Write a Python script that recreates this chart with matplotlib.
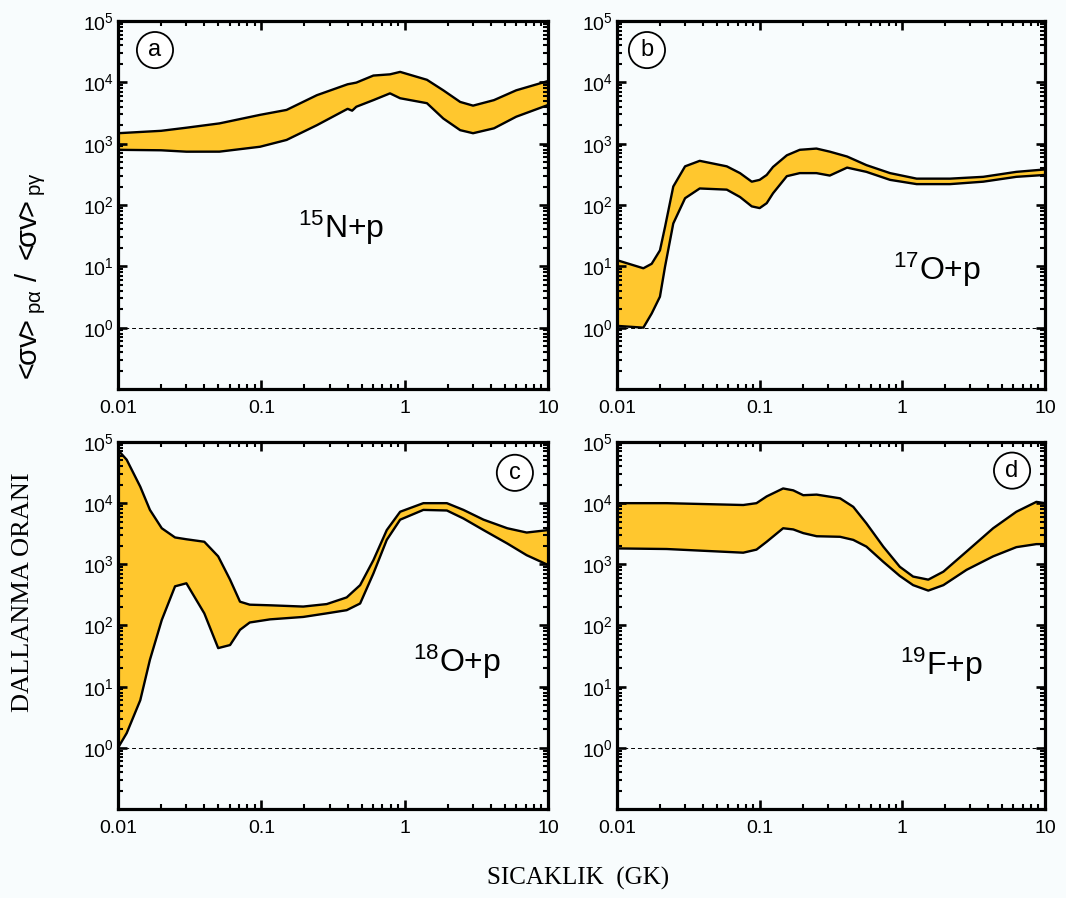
"""Branching ratio bands <sv>_pa/<sv>_pg for four reactions (2x2 panels)."""

import matplotlib
matplotlib.use("Agg")
import matplotlib.pyplot as plt
from matplotlib.ticker import LogLocator, FixedLocator, FixedFormatter, NullFormatter

plt.rcParams["font.family"] = ["Liberation Sans", "DejaVu Sans"]
plt.rcParams["mathtext.fontset"] = "custom"
plt.rcParams["mathtext.rm"] = "Liberation Sans"
plt.rcParams["mathtext.it"] = "Liberation Sans:italic"
plt.rcParams["mathtext.bf"] = "Liberation Sans:bold"

# ---- data (T in GK, ratio) ----
T_a = [0.01, 0.02, 0.03, 0.051, 0.098, 0.15, 0.244, 0.40, 0.43, 0.46, 0.605, 0.79,
       0.93, 1.43, 1.86, 2.44, 3.0, 4.2, 6.0, 10]
hi_a = [1480, 1620, 1820, 2140, 2950, 3550, 6170, 9300, 9600, 9900, 12900, 13500,
        14800, 11000, 7410, 4790, 4170, 5130, 7410, 10500]
lo_a = [794, 780, 740, 741, 891, 1150, 2000, 3700, 3450, 4000, 5130, 6610,
        5500, 4570, 2570, 1660, 1480, 1780, 2750, 4270]

T_b = [0.01, 0.0153, 0.0175, 0.02, 0.0217, 0.0248, 0.030, 0.038, 0.0588, 0.0728,
       0.088, 0.1, 0.112, 0.124, 0.155, 0.191, 0.25, 0.31, 0.41, 0.56, 0.82,
       1.26, 2.16, 3.69, 6.3, 10]
hi_b = [12.6, 9.3, 11.0, 18.2, 43.7, 200, 427, 525, 427, 331, 240, 257, 309, 417,
        646, 794, 832, 741, 617, 447, 331, 269, 269, 288, 347, 380]
lo_b = [1.07, 1.0, 1.7, 3.2, 9.8, 50, 129, 186, 178, 135, 95, 89, 107, 155,
        295, 331, 331, 302, 407, 347, 257, 219, 219, 240, 288, 309]

T_c = [0.01, 0.0115, 0.0143, 0.0167, 0.0202, 0.025, 0.030, 0.040, 0.050, 0.0605,
       0.071, 0.083, 0.115, 0.196, 0.286, 0.394, 0.489, 0.605, 0.75, 0.93, 1.35,
       1.97, 2.57, 3.55, 5.2, 7.1, 10]
hi_c = [74100, 51300, 18600, 7760, 3890, 2750, 2570, 2340, 1350, 562, 245, 219,
        214, 204, 224, 288, 457, 1170, 3630, 7240, 10000, 10000, 7760, 5370,
        3890, 3310, 3630]
lo_c = [1.0, 1.74, 6.0, 27.5, 123, 437, 490, 158, 42.7, 47.9, 85, 112, 126, 138,
        158, 178, 229, 708, 2510, 5370, 7760, 7590, 5620, 3630, 2190, 1410, 977]

T_d = [0.01, 0.0223, 0.0767, 0.095, 0.112, 0.146, 0.172, 0.202, 0.251, 0.366,
       0.453, 0.56, 0.735, 0.96, 1.19, 1.52, 1.94, 2.82, 4.33, 6.3, 8.7, 10]
hi_d = [10000, 10000, 9330, 10000, 12900, 17400, 16200, 13500, 13800, 12000,
        8710, 4680, 1950, 912, 631, 562, 759, 1620, 3890, 7240, 10500, 10000]
lo_d = [1820, 1780, 1550, 1740, 2340, 3890, 3720, 3240, 2880, 2820, 2510, 1950,
        1100, 646, 457, 372, 457, 813, 1350, 1910, 2140, 2140]

panel_tags = ["a", "b", "c", "d"]
reactions = [r"$^{15}$N+p", r"$^{17}$O+p", r"$^{18}$O+p", r"$^{19}$F+p"]
x_ticks = [0.01, 0.1, 1, 10]
x_ticklabels = ["0.01", "0.1", "1", "10"]
y_ticks = [1, 10, 100, 1e3, 1e4, 1e5]
y_ticklabels = [r"$10^{0}$", r"$10^{1}$", r"$10^{2}$", r"$10^{3}$", r"$10^{4}$", r"$10^{5}$"]

BAND = "#ffc72e"
BG = "#f8fcfd"

W, H = 1066, 898
fig = plt.figure(figsize=(W / 100, H / 100), dpi=100)
fig.patch.set_facecolor(BG)

# axes boxes in pixels: (left, top, right, bottom)
boxes = [(118, 21, 548, 389), (617, 21, 1045, 389),
         (118, 442, 548, 809), (617, 442, 1045, 809)]
tag_pos = [(0.086, 0.921), (0.070, 0.921), (0.923, 0.916), (0.923, 0.922)]
lab_pos = [(0.519, 0.437), (0.748, 0.323), (0.788, 0.400), (0.757, 0.392)]
series = [(T_a, hi_a, lo_a), (T_b, hi_b, lo_b), (T_c, hi_c, lo_c), (T_d, hi_d, lo_d)]

for i, (l, t, r, b) in enumerate(boxes):
    ax = fig.add_axes([l / W, 1 - b / H, (r - l) / W, (b - t) / H])
    ax.set_facecolor(BG)
    T, hi, lo = series[i]
    ax.fill_between(T, lo, hi, color=BAND, lw=0)
    ax.plot(T, hi, color="k", lw=1.7, solid_joinstyle="round")
    ax.plot(T, lo, color="k", lw=1.7, solid_joinstyle="round")
    ax.axhline(1, color="k", lw=0.7, ls=(0, (4, 3)))

    ax.set_xscale("log")
    ax.set_yscale("log")
    ax.set_xlim(0.01, 10)
    ax.set_ylim(0.1, 1e5)

    ax.xaxis.set_major_locator(FixedLocator(x_ticks))
    ax.xaxis.set_major_formatter(FixedFormatter(x_ticklabels))
    ax.xaxis.set_minor_locator(LogLocator(base=10, subs=range(2, 10)))
    ax.xaxis.set_minor_formatter(NullFormatter())
    ax.yaxis.set_major_locator(FixedLocator(y_ticks))
    ax.yaxis.set_major_formatter(FixedFormatter(y_ticklabels))
    ax.yaxis.set_minor_locator(LogLocator(base=10, subs=range(2, 10)))
    ax.yaxis.set_minor_formatter(NullFormatter())

    ax.tick_params(which="both", direction="in", top=True, right=True, colors="k")
    ax.tick_params(which="major", length=6.5, width=1.9, labelsize=14)
    ax.tick_params(which="minor", length=3.5, width=1.5)
    ax.tick_params(axis="x", which="major", pad=8)
    ax.tick_params(axis="y", which="major", pad=3)
    for sp in ax.spines.values():
        sp.set_linewidth(2.3)

    ax.text(*tag_pos[i], panel_tags[i], transform=ax.transAxes, ha="center",
            va="center", fontsize=17,
            bbox=dict(boxstyle="circle,pad=0.3", fc="white", ec="k", lw=1.3))
    ax.text(*lab_pos[i], reactions[i], transform=ax.transAxes, ha="center",
            va="center", fontsize=23)

fig.text(578 / W, 1 - 878 / H, "SICAKLIK  (GK)", family="Liberation Serif",
         fontsize=18, ha="center", va="center")
fig.text(23 / W, 1 - 592 / H, "DALLANMA ORANI", family="Liberation Serif",
         fontsize=19, ha="center", va="center", rotation=90)
fig.text(31 / W, 1 - 278 / H,
         r"$\mathrm{<\!\!\sigma v\!\!>_{p\alpha}\ /\ <\!\!\sigma v\!\!>_{p\gamma}}$",
         fontsize=21, ha="center", va="center", rotation=90)

fig.savefig("out.png", dpi=100, facecolor=BG)
